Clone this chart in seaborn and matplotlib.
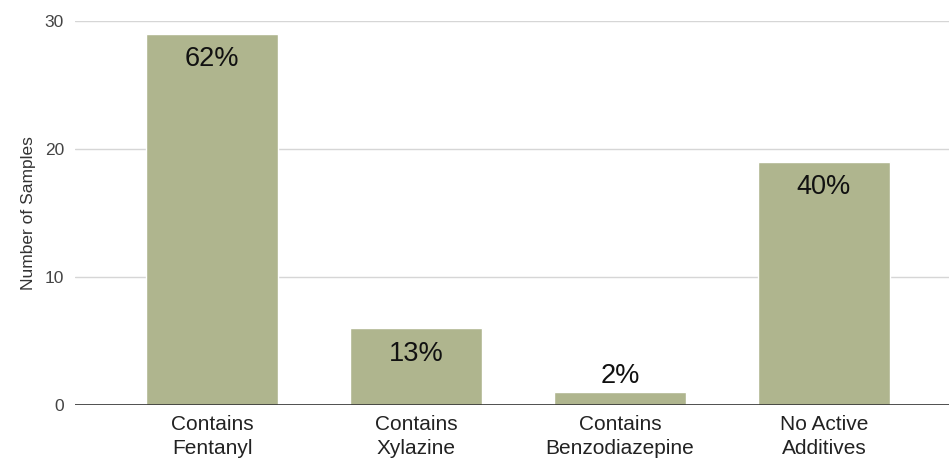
import matplotlib
matplotlib.use('Agg')
import matplotlib.pyplot as plt
import seaborn as sns
import pandas as pd

categories = ['Contains\nFentanyl', 'Contains\nXylazine', 'Contains\nBenzodiazepine', 'No Active\nAdditives']
counts = [29, 6, 1, 19]
pct_labels = ['62%', '13%', '2%', '40%']

df = pd.DataFrame({'cat': categories, 'n': counts})

sns.set_style('white')
plt.rcParams['font.family'] = ['Liberation Sans', 'DejaVu Sans']

fig = plt.figure(figsize=(9.49, 4.63), dpi=100)
ax = fig.add_axes([75 / 949, 1 - 405 / 463, 874 / 949, 384 / 463])

sns.barplot(data=df, x='cat', y='n', color='#afb58e', saturation=1, width=0.647, ax=ax, zorder=2)

ax.set_ylim(0, 30)
ax.set_xlim(-0.672, 3.613)
ax.set_yticks([0, 10, 20, 30])
ax.yaxis.grid(True, color='#d6d6d6', linewidth=1, zorder=0)
ax.axhline(0, color='#333333', linewidth=1.2, zorder=3)
for s in ax.spines.values():
    s.set_visible(False)

ax.tick_params(axis='x', length=0, labelsize=15, colors='#222222', pad=7)
for t in ax.get_xticklabels():
    t.set_linespacing(1.35)
ax.tick_params(axis='y', length=0, labelsize=12.5, colors='#444444', pad=8)
ax.set_xlabel('')
ax.set_ylabel('Number of Samples', fontsize=12.5, color='#333333', labelpad=6)

for i, (v, lab) in enumerate(zip(counts, pct_labels)):
    if v >= 3:
        ax.annotate(lab, (i, v), xytext=(0, -9), textcoords='offset points',
                    ha='center', va='top', fontsize=19.5, color='#111111')
    else:
        ax.annotate(lab, (i, v), xytext=(0, 2), textcoords='offset points',
                    ha='center', va='bottom', fontsize=19.5, color='#111111')

fig.savefig('out.png', dpi=100)
